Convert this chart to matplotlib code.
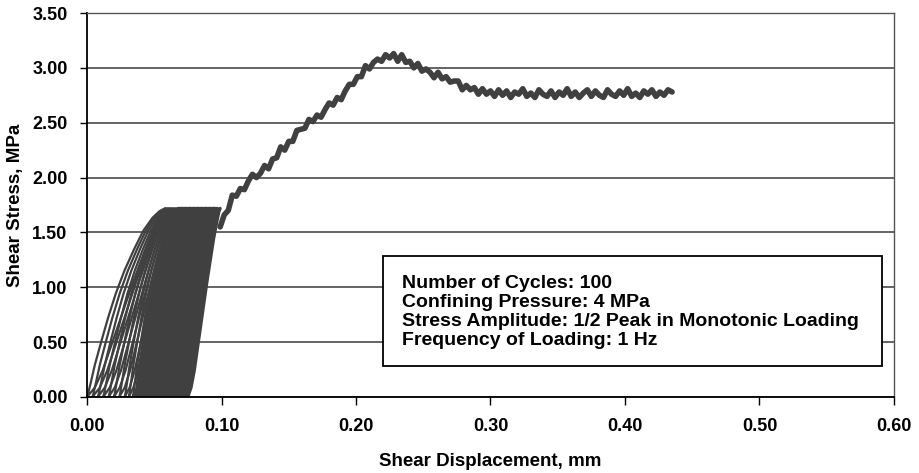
import matplotlib
matplotlib.use("Agg")
import matplotlib.pyplot as plt
from matplotlib.patches import Rectangle
import numpy as np

plt.rcParams['font.family'] = ['Liberation Sans', 'DejaVu Sans']
plt.rcParams['font.weight'] = 'bold'

# ---------------- data ----------------
# cyclic phase: per-cycle displacement at zero stress and at peak stress (mm)
cycle_start = [0.000, 0.004, 0.008, 0.012, 0.016, 0.020, 0.024, 0.028, 0.031, 0.034,
               0.036, 0.037, 0.038, 0.039, 0.040, 0.041, 0.042, 0.043, 0.044, 0.045,
               0.046, 0.047, 0.048, 0.049, 0.050, 0.051, 0.052, 0.053, 0.054, 0.055,
               0.056, 0.057, 0.058, 0.059, 0.060, 0.061, 0.062, 0.063, 0.064, 0.065,
               0.066, 0.067, 0.068, 0.069, 0.070, 0.071, 0.072, 0.073, 0.074, 0.075]
cycle_peak = [0.058, 0.059, 0.060, 0.061, 0.062, 0.063, 0.064, 0.065, 0.066, 0.067,
              0.068, 0.069, 0.070, 0.070, 0.071, 0.072, 0.073, 0.073, 0.074, 0.075,
              0.076, 0.076, 0.077, 0.078, 0.079, 0.079, 0.080, 0.081, 0.082, 0.082,
              0.083, 0.084, 0.085, 0.085, 0.086, 0.087, 0.088, 0.088, 0.089, 0.090,
              0.091, 0.091, 0.092, 0.093, 0.094, 0.094, 0.095, 0.096, 0.097, 0.099]
peak_stress = 1.72  # MPa

# loop outline read from the outer loops: (fraction of travel, fraction of peak stress)
loop_travel = [0.00, 0.10, 0.20, 0.30, 0.40, 0.50, 0.60, 0.70, 0.80, 0.90, 0.96, 1.00,
               0.93, 0.84, 0.72, 0.60, 0.48, 0.37, 0.27, 0.18, 0.10, 0.05, 0.015, 0.00]
loop_stress = [0.00, 0.05, 0.14, 0.26, 0.38, 0.50, 0.62, 0.73, 0.84, 0.93, 0.98, 1.00,
               0.985, 0.95, 0.88, 0.78, 0.67, 0.55, 0.42, 0.29, 0.17, 0.08, 0.02, 0.00]

# monotonic phase after cycling (mm, MPa)
mono_x = [0.099, 0.102, 0.105, 0.108, 0.111, 0.114, 0.117, 0.120, 0.123, 0.126,
          0.129, 0.132, 0.135, 0.138, 0.141, 0.144, 0.147, 0.150, 0.153, 0.156,
          0.159, 0.162, 0.165, 0.168, 0.171, 0.174, 0.177, 0.180, 0.183, 0.186,
          0.189, 0.192, 0.195, 0.198, 0.201, 0.204, 0.207, 0.210, 0.213, 0.216,
          0.219, 0.222, 0.225, 0.228, 0.231, 0.234, 0.237, 0.240, 0.243, 0.246,
          0.249, 0.252, 0.255, 0.258, 0.261, 0.264, 0.267, 0.270, 0.273, 0.276,
          0.279, 0.282, 0.285, 0.288, 0.291, 0.294, 0.297, 0.300,
          0.303, 0.306, 0.309, 0.312, 0.315, 0.318, 0.321, 0.324, 0.327, 0.330,
          0.333, 0.336, 0.339, 0.342, 0.345, 0.348, 0.351, 0.354, 0.357, 0.360,
          0.363, 0.366, 0.369, 0.372, 0.375, 0.378, 0.381, 0.384, 0.387, 0.390,
          0.393, 0.396, 0.399, 0.402, 0.405, 0.408, 0.411, 0.414, 0.417, 0.420,
          0.423, 0.426, 0.429, 0.432, 0.435]
mono_y = [1.55, 1.66, 1.70, 1.84, 1.83, 1.90, 1.89, 1.97, 2.03, 2.00,
          2.04, 2.11, 2.08, 2.17, 2.18, 2.28, 2.25, 2.33, 2.33, 2.43,
          2.44, 2.45, 2.53, 2.51, 2.57, 2.55, 2.62, 2.68, 2.66, 2.73,
          2.71, 2.79, 2.85, 2.85, 2.92, 2.92, 3.02, 2.99, 3.05, 3.08,
          3.06, 3.12, 3.09, 3.13, 3.06, 3.12, 3.05, 3.06, 3.00, 3.04,
          2.97, 2.99, 2.96, 2.91, 2.96, 2.90, 2.92, 2.87, 2.88, 2.88,
          2.80, 2.84, 2.80, 2.82, 2.76, 2.81, 2.76, 2.79,
          2.74, 2.80, 2.75, 2.79, 2.73, 2.78, 2.76, 2.81, 2.74, 2.77,
          2.73, 2.80, 2.76, 2.74, 2.79, 2.73, 2.78, 2.75, 2.81, 2.74,
          2.78, 2.73, 2.77, 2.80, 2.74, 2.79, 2.75, 2.73, 2.80, 2.76,
          2.74, 2.79, 2.75, 2.81, 2.74, 2.77, 2.73, 2.79, 2.76, 2.80,
          2.74, 2.78, 2.75, 2.80, 2.78]

x_ticks = [0.0, 0.1, 0.2, 0.3, 0.4, 0.5, 0.6]
y_ticks = [0.0, 0.5, 1.0, 1.5, 2.0, 2.5, 3.0, 3.5]
info_lines = ["Number of Cycles: 100",
              "Confining Pressure: 4 MPa",
              "Stress Amplitude: 1/2 Peak in Monotonic Loading",
              "Frequency of Loading: 1 Hz"]

# ---------------- drawing ----------------
fig = plt.figure(figsize=(9.2, 4.73), dpi=100)
ax = fig.add_axes([0.0946, 0.1607, 0.9717 - 0.0946, 0.9725 - 0.1607])

line_col = '#404040'
ax.set_axisbelow(True)
ax.yaxis.grid(True, color='#3a3a3a', linewidth=1.1)

trav = np.array(loop_travel)
strs = np.array(loop_stress) * peak_stress
for i, (xb, xt) in enumerate(zip(cycle_start, cycle_peak)):
    ax.plot(xb + trav * (xt - xb), strs, color=line_col,
            linewidth=1.6 if i < 10 else 2.2,
            solid_joinstyle='round', solid_capstyle='round')

ax.plot(mono_x, mono_y, color=line_col, linewidth=4.0, solid_joinstyle='round',
        solid_capstyle='round')

ax.set_xlim(0, 0.6)
ax.set_ylim(0, 3.5)
ax.set_xticks(x_ticks)
ax.set_yticks(y_ticks)
ax.set_xticklabels([f"{v:.2f}" for v in x_ticks])
ax.set_yticklabels([f"{v:.2f}" for v in y_ticks])
ax.tick_params(axis='both', direction='out', labelsize=13, colors='black')
ax.tick_params(axis='x', length=6, width=1, pad=9)
ax.tick_params(axis='y', length=5, width=1, pad=9)
for lab in ax.get_xticklabels() + ax.get_yticklabels():
    lab.set_fontweight('bold')

for side in ['left', 'bottom']:
    ax.spines[side].set_color('black')
    ax.spines[side].set_linewidth(1.3)
for side in ['top', 'right']:
    ax.spines[side].set_color('#555555')
    ax.spines[side].set_linewidth(1.0)

ax.set_xlabel("Shear Displacement, mm", fontsize=13.5, fontweight='bold', labelpad=13)
ax.set_ylabel("Shear Stress, MPa", fontsize=13.5, fontweight='bold', labelpad=6)

# info box
ax.add_patch(Rectangle((0.220, 0.283), 0.371, 1.004, facecolor='white',
                       edgecolor='black', linewidth=1.3, zorder=5))
ax.text(0.234, 0.775, "\n".join(info_lines), fontsize=14, fontweight='bold',
        va='center', ha='left', linespacing=1.15, zorder=6)

fig.savefig("out.png", dpi=100)
